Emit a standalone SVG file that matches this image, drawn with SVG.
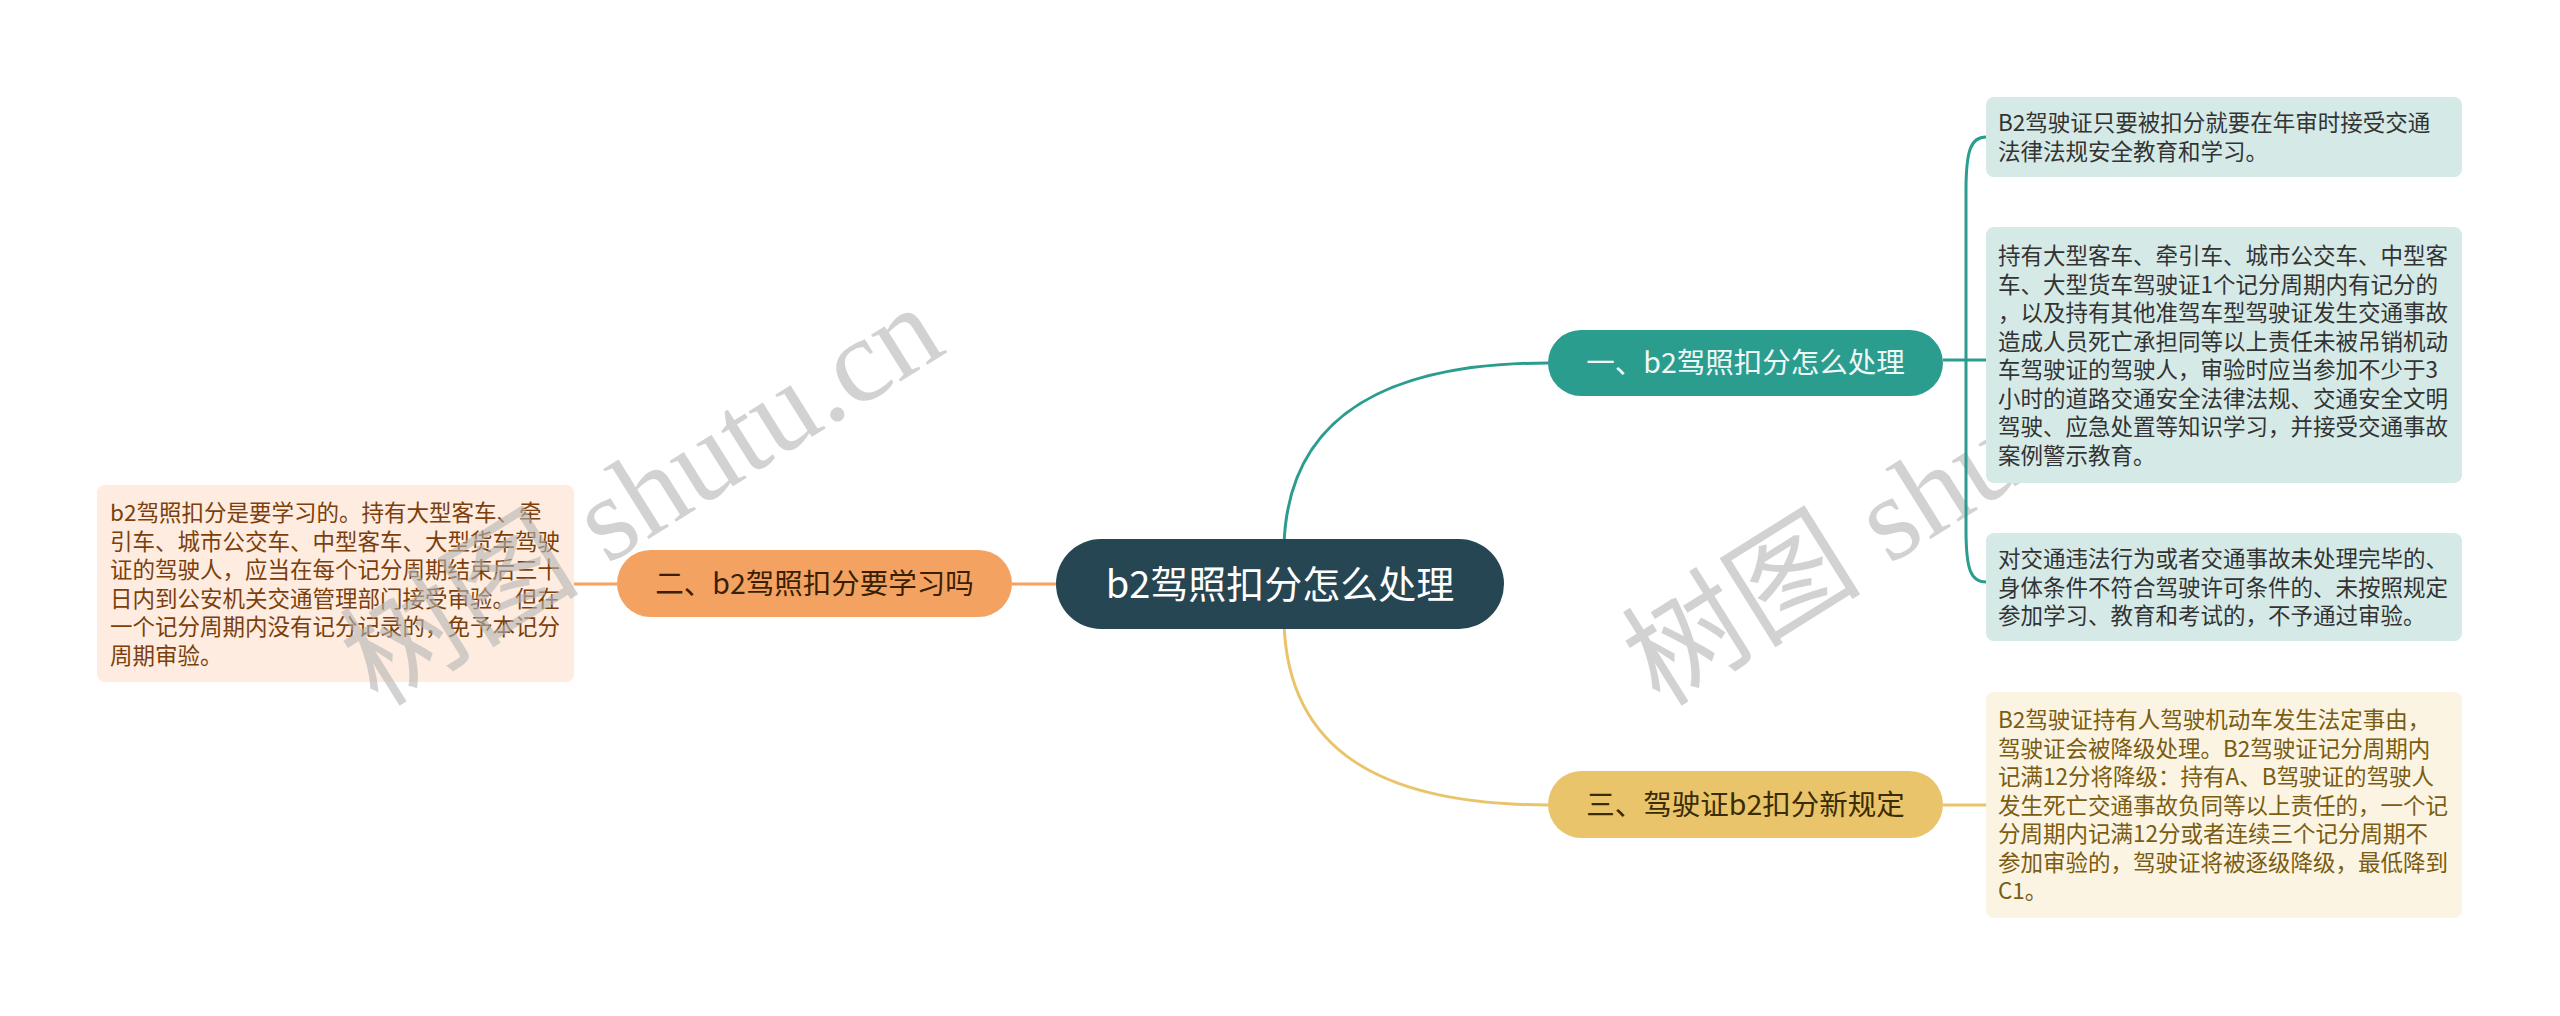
<svg xmlns="http://www.w3.org/2000/svg" width="2560" height="1016" viewBox="0 0 2560 1016">
<style>
.leaf{font-family:"Noto Sans CJK SC","Noto Sans",sans-serif;font-size:22.5px}
.tl{fill:#333333}
.gl{fill:#7a5c12}
.ol{fill:#7c3f0c}
.main{font-family:"Noto Sans CJK SC","Noto Sans",sans-serif;font-size:28.5px;text-anchor:middle}
.conn{fill:none;stroke-width:3}
.wm{font-family:"Liberation Serif","Noto Sans CJK SC",serif;font-size:120px;fill:#b4b4b4;fill-opacity:0.6}
</style>
<rect width="2560" height="1016" fill="#ffffff"/>
<g id="watermark-right">
<text class="wm" transform="translate(1660,708) rotate(-32)">树图 shutu.cn</text>
</g>
<g id="connectors">
<path class="conn" stroke="#2A9D8F" d="M1284 545 C1288 420 1380 363 1548 363"/>
<path class="conn" stroke="#E9C46A" d="M1284 623 C1288 750 1380 805 1548 805"/>
<path class="conn" stroke="#F4A261" d="M1056 584 L1012 584"/>
<path class="conn" stroke="#F4A261" d="M617 584 L574 584"/>
<path class="conn" stroke="#2A9D8F" d="M1943 360 L1986 360"/>
<path class="conn" stroke="#2A9D8F" d="M1986 137 C1971 137 1966 150 1966 190 L1966 530 C1966 570 1971 582 1986 582"/>
<path class="conn" stroke="#E9C46A" d="M1943 805 L1986 805"/>
</g>
<g id="node-center">
<rect x="1056" y="539" width="448" height="90" rx="45" fill="#264653"/>
<text x="1280" y="598" font-family="Noto Sans CJK SC, Noto Sans, sans-serif" font-size="38" fill="#ffffff" text-anchor="middle">b2驾照扣分怎么处理</text>
</g>
<g id="node-1">
<rect x="1548" y="330" width="395" height="66" rx="33" fill="#2A9D8F"/>
<text class="main" x="1745.5" y="373" fill="#eef8f6">一、b2驾照扣分怎么处理</text>
</g>
<g id="node-2">
<rect x="617" y="550" width="395" height="67" rx="33.5" fill="#F4A261"/>
<text class="main" x="814.5" y="594" fill="#3a1f05">二、b2驾照扣分要学习吗</text>
</g>
<g id="node-3">
<rect x="1548" y="771" width="395" height="67" rx="33.5" fill="#E9C46A"/>
<text class="main" x="1745.5" y="815" fill="#3a2c05">三、驾驶证b2扣分新规定</text>
</g>
<g id="leaf-1-1">
<rect x="1986" y="97" width="476" height="80" rx="8" fill="#d5eae7"/>
<text class="leaf tl" x="1998"><tspan x="1998" y="131">B2驾驶证只要被扣分就要在年审时接受交通</tspan><tspan x="1998" y="159.5">法律法规安全教育和学习。</tspan></text>
</g>
<g id="leaf-1-2">
<rect x="1986" y="227" width="476" height="256" rx="8" fill="#d5eae7"/>
<text class="leaf tl"><tspan x="1998" y="264">持有大型客车、牵引车、城市公交车、中型客</tspan><tspan x="1998" y="292.5">车、大型货车驾驶证1个记分周期内有记分的</tspan><tspan x="1998" y="321">，以及持有其他准驾车型驾驶证发生交通事故</tspan><tspan x="1998" y="349.5">造成人员死亡承担同等以上责任未被吊销机动</tspan><tspan x="1998" y="378">车驾驶证的驾驶人，审验时应当参加不少于3</tspan><tspan x="1998" y="406.5">小时的道路交通安全法律法规、交通安全文明</tspan><tspan x="1998" y="435">驾驶、应急处置等知识学习，并接受交通事故</tspan><tspan x="1998" y="463.5">案例警示教育。</tspan></text>
</g>
<g id="leaf-1-3">
<rect x="1986" y="533" width="476" height="108" rx="8" fill="#d5eae7"/>
<text class="leaf tl"><tspan x="1998" y="567">对交通违法行为或者交通事故未处理完毕的、</tspan><tspan x="1998" y="595.5">身体条件不符合驾驶许可条件的、未按照规定</tspan><tspan x="1998" y="624">参加学习、教育和考试的，不予通过审验。</tspan></text>
</g>
<g id="leaf-3-1">
<rect x="1986" y="692" width="476" height="226" rx="8" fill="#fbf4e3"/>
<text class="leaf gl"><tspan x="1998" y="728">B2驾驶证持有人驾驶机动车发生法定事由，</tspan><tspan x="1998" y="756.5">驾驶证会被降级处理。B2驾驶证记分周期内</tspan><tspan x="1998" y="785">记满12分将降级：持有A、B驾驶证的驾驶人</tspan><tspan x="1998" y="813.5">发生死亡交通事故负同等以上责任的，一个记</tspan><tspan x="1998" y="842">分周期内记满12分或者连续三个记分周期不</tspan><tspan x="1998" y="870.5">参加审验的，驾驶证将被逐级降级，最低降到</tspan><tspan x="1998" y="899">C1。</tspan></text>
</g>
<g id="leaf-2-1">
<rect x="97" y="485" width="477" height="197" rx="8" fill="#fdecdf"/>
<text class="leaf ol"><tspan x="110" y="521">b2驾照扣分是要学习的。持有大型客车、牵</tspan><tspan x="110" y="549.5">引车、城市公交车、中型客车、大型货车驾驶</tspan><tspan x="110" y="578">证的驾驶人，应当在每个记分周期结束后三十</tspan><tspan x="110" y="606.5">日内到公安机关交通管理部门接受审验。但在</tspan><tspan x="110" y="635">一个记分周期内没有记分记录的，免予本记分</tspan><tspan x="110" y="663.5">周期审验。</tspan></text>
</g>
<g id="watermark-left">
<text class="wm" transform="translate(378,708) rotate(-32)">树图 shutu.cn</text>
</g>
</svg>
